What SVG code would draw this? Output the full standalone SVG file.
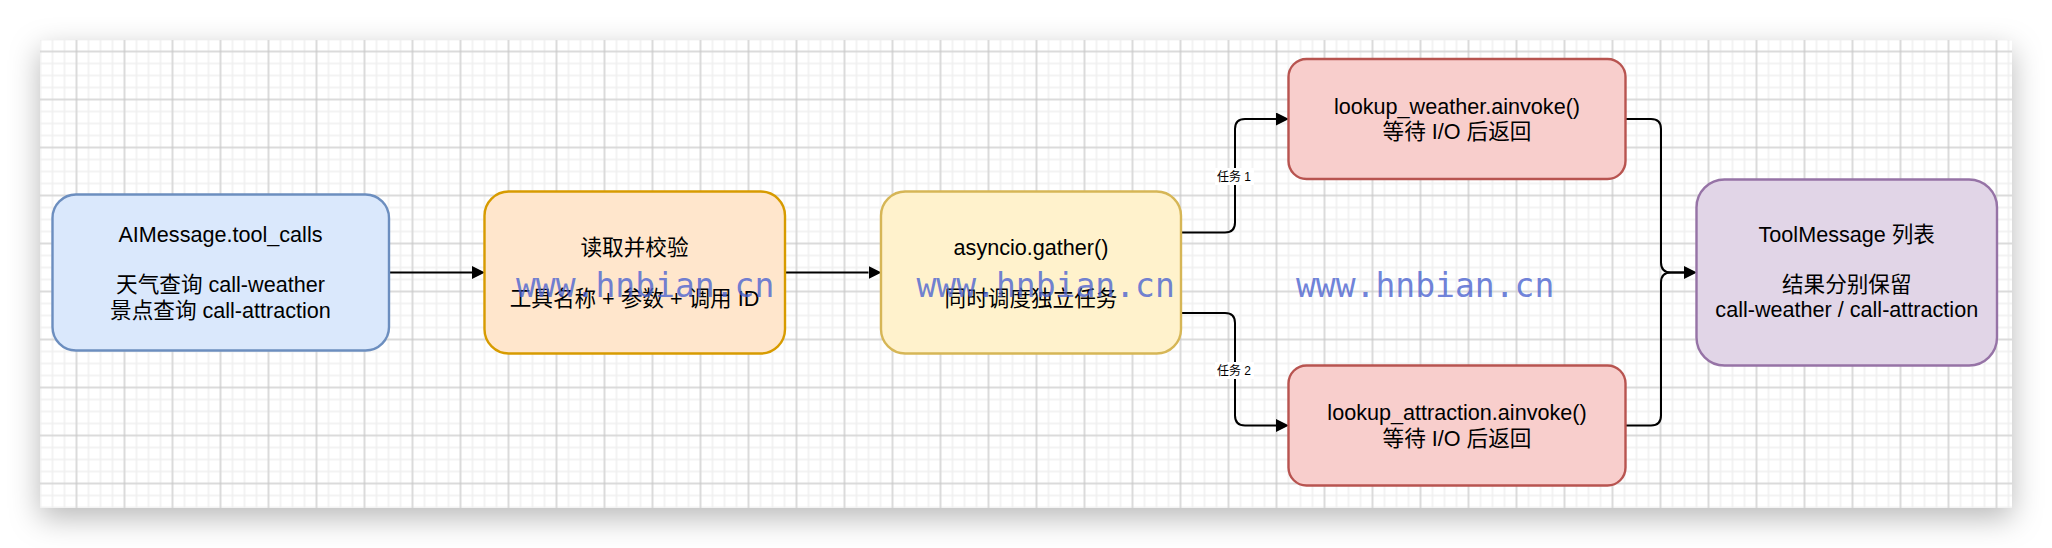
<svg xmlns="http://www.w3.org/2000/svg" width="2052" height="548" viewBox="0 0 2052 548">
  <style>
    .box { stroke-width: 2.4; }
    .t { font-family: "Liberation Sans", "Noto Sans CJK SC", sans-serif; font-size: 21.6px; fill: #000; text-anchor: middle; }
    .lbl { font-family: "Liberation Sans", "Noto Sans CJK SC", sans-serif; font-size: 12px; fill: #000; text-anchor: middle; }
    .edge { fill: none; stroke: #000; stroke-width: 2; }
    .wm { font-family: "DejaVu Sans Mono", monospace; font-size: 33px; fill: #4a62d0; fill-opacity: 0.8; }
  </style>
  <defs>
    <filter id="shadow" x="-10%" y="-30%" width="120%" height="160%">
      <feDropShadow dx="0" dy="10" stdDeviation="15" flood-color="#000" flood-opacity="0.28"/>
    </filter>
    <pattern id="grid" x="22.5" y="45.5" width="48" height="48" patternUnits="userSpaceOnUse">
      <rect width="48" height="48" fill="#ffffff"/>
      <path d="M6 0V48M18 0V48M30 0V48M42 0V48M0 6H48M0 18H48M0 30H48M0 42H48" stroke="#f0f0f0" stroke-width="1.6"/>
      <path d="M6 0V48M0 6H48" stroke="#c4c4c4" stroke-width="1"/>
    </pattern>
    <marker id="arr" viewBox="0 0 13 13" refX="0" refY="6.5" markerWidth="13" markerHeight="13" markerUnits="userSpaceOnUse" orient="auto">
      <path d="M0,0 L13,6.5 L0,13 z" fill="#000"/>
    </marker>
  </defs>

  <rect width="2052" height="548" fill="#ffffff"/>
  <rect x="40" y="40" width="1972" height="468" fill="#ffffff" filter="url(#shadow)"/>
  <rect x="40" y="40" width="1972" height="468" fill="url(#grid)"/>

  <g id="connectors">
    <path class="edge" d="M389,272.5 H472" marker-end="url(#arr)"/>
    <path class="edge" d="M785,272.5 H868.5" marker-end="url(#arr)"/>
    <path class="edge" d="M1181,232.5 H1225 Q1235,232.5 1235,222.5 V129 Q1235,119 1245,119 H1276" marker-end="url(#arr)"/>
    <path class="edge" d="M1181,313 H1225 Q1235,313 1235,323 V415.5 Q1235,425.5 1245,425.5 H1276" marker-end="url(#arr)"/>
    <path class="edge" d="M1625.5,119 H1651 Q1661,119 1661,129 V262.5 Q1661,272.5 1671,272.5 H1684" marker-end="url(#arr)"/>
    <path class="edge" d="M1625.5,425.5 H1651 Q1661,425.5 1661,415.5 V282.5 Q1661,272.5 1671,272.5 H1684"/>
    <g id="label-task1">
      <rect x="1215" y="168" width="39" height="17" fill="#ffffff"/>
      <text class="lbl" x="1234" y="181">任务 1</text>
    </g>
    <g id="label-task2">
      <rect x="1215" y="362" width="39" height="17" fill="#ffffff"/>
      <text class="lbl" x="1234" y="375">任务 2</text>
    </g>
  </g>

  <g id="node-aimessage">
    <rect class="box" x="52.5" y="194.5" width="336.5" height="156" rx="23.4" fill="#dae8fc" stroke="#6c8ebf"/>
    <text class="t" x="220.5" y="241.5">AIMessage.tool_calls</text>
    <text class="t" x="220.5" y="292">天气查询 call-weather</text>
    <text class="t" x="220.5" y="317.5">景点查询 call-attraction</text>
  </g>

  <g id="node-validate">
    <rect class="box" x="484.5" y="191.5" width="300.5" height="162" rx="24.3" fill="#ffe6cc" stroke="#d79b00"/>
    <text class="t" x="634.5" y="255">读取并校验</text>
    <text class="t" x="634.5" y="306">工具名称 + 参数 + 调用 ID</text>
  </g>

  <g id="node-gather">
    <rect class="box" x="881" y="191.5" width="300" height="162" rx="24.3" fill="#fff2cc" stroke="#d6b656"/>
    <text class="t" x="1031" y="255">asyncio.gather()</text>
    <text class="t" x="1031" y="306">同时调度独立任务</text>
  </g>

  <g id="node-weather">
    <rect class="box" x="1288.5" y="59" width="337" height="120" rx="18" fill="#f8cecc" stroke="#b85450"/>
    <text class="t" x="1457" y="113.5">lookup_weather.ainvoke()</text>
    <text class="t" x="1457" y="139">等待 I/O 后返回</text>
  </g>

  <g id="node-attraction">
    <rect class="box" x="1288.5" y="365.5" width="337" height="120" rx="18" fill="#f8cecc" stroke="#b85450"/>
    <text class="t" x="1457" y="420">lookup_attraction.ainvoke()</text>
    <text class="t" x="1457" y="445.5">等待 I/O 后返回</text>
  </g>

  <g id="node-toolmessage">
    <rect class="box" x="1696.5" y="179.5" width="300.5" height="186" rx="27.9" fill="#e1d5e7" stroke="#9673a6"/>
    <text class="t" x="1846.75" y="242">ToolMessage 列表</text>
    <text class="t" x="1846.75" y="291.5">结果分别保留</text>
    <text class="t" x="1846.75" y="316.5">call-weather / call-attraction</text>
  </g>

  <g id="watermark">
    <text class="wm" x="516" y="297">www.hnbian.cn</text>
    <text class="wm" x="916.5" y="297">www.hnbian.cn</text>
    <text class="wm" x="1296" y="297">www.hnbian.cn</text>
  </g>
</svg>
